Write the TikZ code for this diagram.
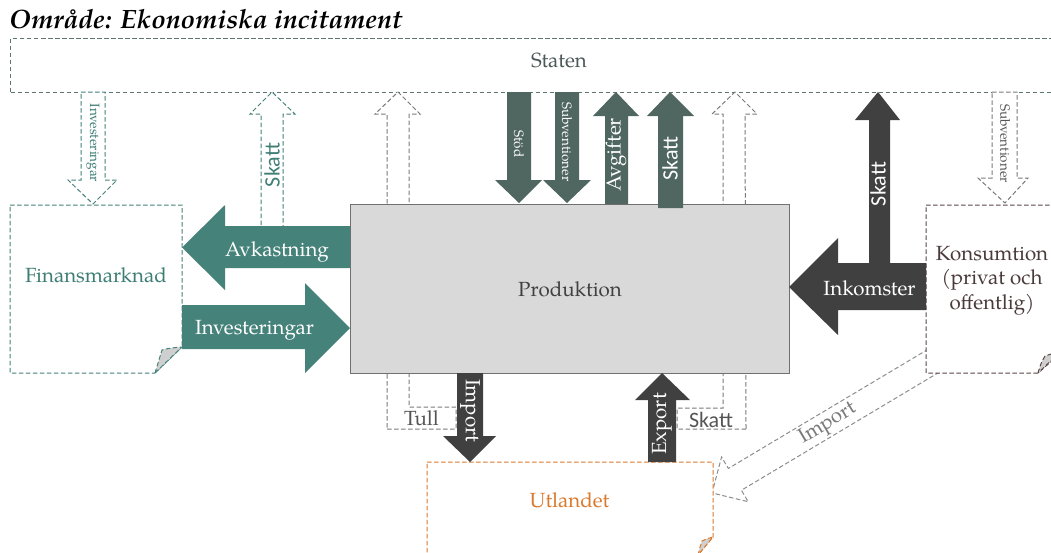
\documentclass[tikz,border=0pt]{standalone}
\usepackage{fontspec}
\setmainfont{TeX Gyre Pagella}
\newfontfamily\sansf{Carlito}

\definecolor{teal1}{HTML}{45827A}
\definecolor{tealtxt}{HTML}{3F7E75}
\definecolor{slate}{HTML}{506660}
\definecolor{dark}{HTML}{404040}
\definecolor{statenline}{HTML}{5E7571}
\definecolor{statentxt}{HTML}{4B5856}
\definecolor{greyline}{HTML}{7A7A7A}
\definecolor{greytxt}{HTML}{555555}
\definecolor{orange1}{HTML}{DB7A2E}
\definecolor{konsline}{HTML}{5A4646}
\definecolor{konstxt}{HTML}{4A3A3A}
\definecolor{prodfill}{HTML}{D9D9D9}
\definecolor{prodline}{HTML}{707070}
\definecolor{foldfill}{HTML}{CFCFCF}

\tikzset{
  dashline/.style={dash pattern=on 4.5pt off 2.5pt, line width=1pt},
  lbl/.style={font=\fontsize{20.5}{24}\selectfont, inner sep=0pt},
  smalllbl/.style={font=\fontsize{13.5}{15}\selectfont, inner sep=0pt},
  sanslbl/.style={font=\sansf\fontsize{22}{26}\selectfont, inner sep=0pt},
  fold/.style={fill=foldfill, dashline},
}

\begin{document}
\begin{tikzpicture}[x=1pt,y=-1pt]
\useasboundingbox (0,0) rectangle (1051,552);
\clip (0,0) rectangle (1051,552);

% heading
\node[anchor=base west, inner sep=0pt, font=\fontsize{26.5}{30}\selectfont\bfseries\itshape] (title) at (9,28) {Område: Ekonomiska incitament};

% the state
\node[draw=statenline, dashline, minimum width=1100pt, minimum height=54pt, anchor=north west, inner sep=0pt] (staten) at (10,38) {};
\node[lbl, text=statentxt, anchor=base] (statenlbl) at (559,67.5) {Staten};

% dashed flows passing behind the production box
\draw[greyline, dashline, fill=white] (387,429) -- (456,429) -- (456,407) -- (409,407) -- (409,114) -- (420,114) -- (398,92) -- (375,114) -- (387,114) -- cycle;
\draw[greyline, dashline, fill=white] (746,429) -- (677,429) -- (677,408) -- (723,408) -- (723,114) -- (712,114) -- (735,92) -- (757,114) -- (745,114) -- cycle;

% dashed flows of the financial market
\draw[teal1, dashline, fill=white] (81,92) -- (105,92) -- (105,180) -- (117,180) -- (93,204) -- (68,180) -- (81,180) -- cycle;
\draw[teal1, dashline, fill=white] (261,232) -- (261,114) -- (250,114) -- (272,92) -- (295,114) -- (283,114) -- (283,232) -- cycle;

% dashed subsidies to consumption
\draw[greyline, dashline, fill=white] (992,92) -- (1017,92) -- (1017,178) -- (1028,178) -- (1005,203) -- (978,178) -- (992,178) -- cycle;

% dashed import from consumption abroad
\begin{scope}[shift={(931.5,362)}, rotate=210.83]
  \draw[greyline!85, dashline, fill=white] (-25,12.7) -- (229,12.7) -- (229,26) -- (255.6,0) -- (229,-26) -- (229,-12.7) -- (-25,-12.7) -- cycle;
\end{scope}

% production
\node[draw=prodline, fill=prodfill, line width=1.3pt, minimum width=439pt, minimum height=169pt, anchor=north west, inner sep=0pt] (prod) at (350,204) {};

% financial market
\draw[teal1, dashline, fill=white] (10,205) -- (182,205) -- (182,347) -- (155,373) -- (10,373) -- cycle;
\draw[teal1, fold] (155,373) .. controls (158,362) .. (162,350) .. controls (170,348) .. (182,347) -- cycle;

% consumption
\draw[konsline, dashline, fill=white] (926,205) -- (1062,205) -- (1062,352) -- (1038,373) -- (926,373) -- cycle;
\draw[konsline, fold] (1038,373) .. controls (1041,363) .. (1045,356) .. controls (1051,354) .. (1060,352) -- cycle;

% abroad
\draw[orange1, dashline, fill=white] (427,462) -- (713,462) -- (713,537) -- (698,555) -- (427,555) -- cycle;
\draw[orange1, fold] (698,555) .. controls (700,547) .. (702,541) .. controls (706,539) .. (713,537) -- cycle;

% returns and investments
\fill[teal1] (350,226) -- (225,226) -- (225,205) -- (182,247.5) -- (225,290) -- (225,268) -- (350,268) -- cycle;
\fill[teal1] (182,305) -- (305,305) -- (305,283) -- (350,328) -- (305,373) -- (305,349) -- (182,349) -- cycle;

% flows between the state and production
\fill[slate] (507,92) -- (531,92) -- (531,180) -- (542,180) -- (519,203) -- (495,180) -- (507,180) -- cycle;
\fill[slate] (555,92) -- (579,92) -- (579,180) -- (591,180) -- (567,203) -- (543,180) -- (555,180) -- cycle;
\fill[slate] (605,204) -- (605,116) -- (593,116) -- (616,92) -- (639,116) -- (628,116) -- (628,204) -- cycle;
\fill[slate] (658,208) -- (658,116) -- (647,116) -- (670,92) -- (694,116) -- (683,116) -- (683,208) -- cycle;

% income and its tax
\fill[dark] (869,266) -- (869,120) -- (855,120) -- (878,92) -- (900,120) -- (890,120) -- (890,266) -- cycle;
\fill[dark] (926,263) -- (838,263) -- (838,238) -- (789,287) -- (838,335) -- (838,310) -- (926,310) -- cycle;

% trade with abroad
\fill[dark] (457,373) -- (457,436) -- (443,436) -- (470,462) -- (496,436) -- (483,436) -- (483,373) -- cycle;
\fill[dark] (648,462) -- (648,400) -- (635,400) -- (662,373) -- (690,400) -- (676,400) -- (676,462) -- cycle;

% box labels
\node[lbl, text=dark, anchor=base] (prodlbl) at (570,296) {Produktion};
\node[lbl, text=tealtxt, anchor=base] (finlbl) at (96,282) {Finansmarknad};
\node[lbl, text=orange1, anchor=base] (utllbl) at (569.5,507) {Utlandet};
\node[lbl, text=konstxt, anchor=base] (kons1) at (992,260) {Konsumtion};
\node[lbl, text=konstxt, anchor=base] (kons2) at (992,284.5) {(privat och};
\node[lbl, text=konstxt, anchor=base] (kons3) at (992,309) {offentlig)};

% arrow labels
\node[lbl, text=white, anchor=base] (avklbl) at (277,256) {Avkastning};
\node[lbl, text=white, anchor=base] (invlbl) at (254.5,334.5) {Investeringar};
\node[lbl, text=white, anchor=base] (inklbl) at (869.5,295) {Inkomster};
\node[lbl, text=greytxt, anchor=base] (tulllbl) at (421.5,425) {Tull};
\node[sanslbl, text=greytxt, anchor=base] (skattb) at (711,427.5) {Skatt};

\node[smalllbl, text=tealtxt, rotate=-90] (invsmall) at (93,143) {Investeringar};
\node[sanslbl, text=tealtxt, rotate=90] (skattf) at (272,165) {Skatt};
\node[smalllbl, text=white, rotate=-90] (stodlbl) at (519,144) {Stöd};
\node[smalllbl, text=white, rotate=-90] (subvlbl) at (567,142) {Subventioner};
\node[lbl, text=white, rotate=90] (avglbl) at (616,155) {Avgifter};
\node[sanslbl, text=white, rotate=90] (skattt) at (670,158.5) {Skatt};
\node[sanslbl, text=white, rotate=90] (skattr) at (878,184) {Skatt};
\node[smalllbl, text=greytxt, rotate=-90] (subvr) at (1005,143.5) {Subventioner};
\node[lbl, text=white, rotate=-90] (implbl) at (470,410.5) {Import};
\node[lbl, text=white, rotate=90] (explbl) at (662,424) {Export};
\node[lbl, text=greyline, rotate=30.83] (impdiag) at (828,424) {Import};
\end{tikzpicture}
\end{document}
